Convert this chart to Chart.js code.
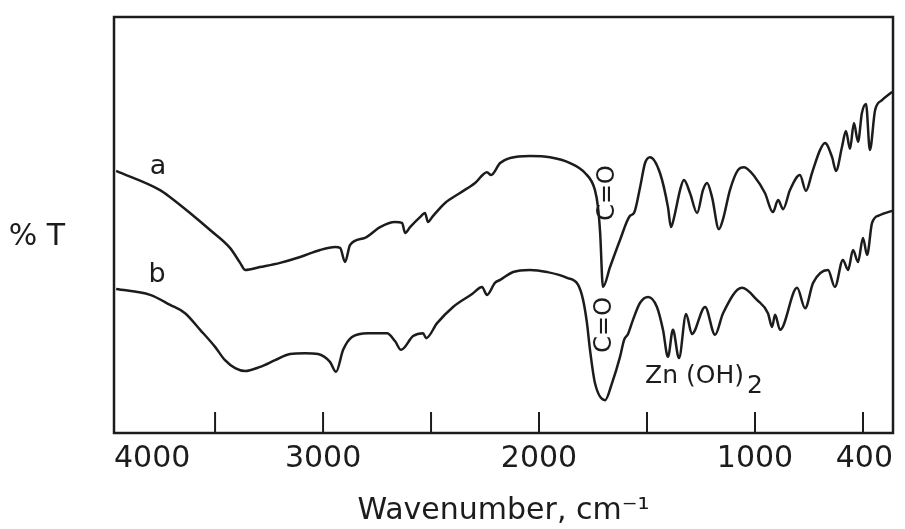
<!DOCTYPE html>
<html>
<head>
<meta charset="utf-8">
<script src="https://cdn.jsdelivr.net/npm/chart.js@4.4.0/dist/chart.umd.min.js"></script>
<style>
  html, body { margin: 0; padding: 0; background: #fff; }
</style>
</head>
<body>
<canvas id="irChart" width="905" height="529"></canvas>
<script>
// Spectre IR, courbe a (nombre d'onde en cm-1, %T)
const wavenumbersA = [3958, 3755, 3708, 3616, 3523, 3431, 3384, 3361, 3292, 3199, 3106, 3014, 2944, 2921, 2898,
    2875, 2806, 2736, 2667, 2634, 2620, 2597, 2551, 2528, 2514, 2495, 2435, 2366, 2296, 2241, 2222, 2180, 2134,
    2042, 1949, 1856, 1787, 1741, 1727, 1717, 1704, 1671, 1625, 1579, 1560, 1532, 1509, 1486, 1440, 1403, 1389,
    1370, 1347, 1329, 1301, 1268, 1241, 1222, 1199, 1167, 1148, 1116, 1079, 1051, 1000, 954, 917, 893, 870, 838,
    792, 764, 736, 699, 676, 643, 625, 597, 579, 560, 542, 523, 505, 486, 468, 444, 412, 365];
const transmittanceA = [63.0, 58.4, 56.7, 52.9, 48.8, 44.5, 40.9, 39.2, 39.9, 40.9, 42.3, 44.0, 44.7, 44.5, 41.1,
    45.2, 46.9, 49.5, 50.7, 50.5, 48.1, 49.5, 51.9, 52.9, 50.7, 51.9, 55.3, 57.7, 60.1, 62.7, 62.0, 64.9, 66.1,
    66.6, 66.3, 64.9, 62.5, 58.4, 54.3, 48.1, 35.1, 39.9, 46.4, 52.2, 52.9, 59.1, 64.9, 66.3, 62.5, 54.3, 49.5,
    52.9, 58.4, 60.8, 57.7, 52.9, 58.4, 60.1, 56.7, 49.0, 51.4, 58.4, 63.2, 63.9, 61.5, 57.7, 53.1, 56.0, 53.8, 58.4,
    62.0, 58.2, 62.5, 68.0, 69.7, 66.3, 63.0, 68.8, 72.6, 68.3, 74.5, 70.0, 76.9, 79.1, 68.0, 77.6, 80.0, 82.0];

// Courbe b
const wavenumbersB = [3958, 3801, 3708, 3639, 3569, 3500, 3454, 3407, 3361, 3292, 3222, 3153, 3083, 3023, 2968,
    2940, 2907, 2866, 2792, 2704, 2667, 2639, 2583, 2537, 2523, 2472, 2398, 2310, 2264, 2241, 2204, 2180, 2120,
    2042, 1963, 1870, 1819, 1796, 1778, 1764, 1741, 1694, 1662, 1625, 1606, 1588, 1565, 1532, 1495, 1454, 1426,
    1403, 1380, 1352, 1319, 1292, 1231, 1185, 1148, 1060, 991, 940, 921, 907, 884, 805, 768, 731, 662, 630,
    593, 569, 546, 523, 500, 481, 458, 421, 365];
const transmittanceB = [34.6, 33.2, 30.8, 28.8, 24.8, 20.7, 17.5, 15.6, 14.9, 15.9, 17.5, 19.0, 19.2, 19.0, 17.1,
    14.7, 20.0, 23.1, 24.0, 24.0, 22.1, 20.0, 23.3, 24.0, 22.8, 26.4, 30.3, 33.4, 35.1, 33.2, 36.1, 36.8, 38.7,
    39.2, 38.7, 37.3, 35.6, 32.0, 26.4, 20.0, 12.0, 7.9, 12.0, 18.3, 22.4, 23.8, 27.2, 31.3, 32.7, 30.3, 24.8,
    18.3, 24.8, 18.0, 28.6, 23.8, 30.3, 23.6, 28.8, 34.9, 32.0, 28.8, 25.5, 28.4, 24.8, 34.9, 30.0, 36.1, 39.2, 35.1,
    41.6, 39.2, 44.0, 41.1, 46.9, 42.8, 50.5, 52.4, 53.4];

// Axe des x : bornes du cadre, graduations internes et libellés
const xMin = 361;
const xMax = 3968;
const tickMarkValues = [3500, 3000, 2500, 2000, 1500, 1000, 500];
const labelValues = [361, 1000, 2000, 3000, 3968];
const labelTexts = ['400', '1000', '2000', '3000', '4000'];

// Annotations (position en nombre d'onde / %T), indice éventuel en fin de texte
const noteTexts = ['a', 'b', 'C=O', 'C=O', 'Zn (OH)'];
const noteSubs = ['', '', '', '', '2'];
const noteX = [3764, 3769, 1680, 1694, 1509];
const noteY = [63.9, 38.0, 57.7, 26.0, 13.5];
const noteRotated = [false, false, true, true, false];

const FONT = "'DejaVu Sans', sans-serif";
const INK = '#1c1c1c';

function toPoints(xs, ys) {
    return xs.map((x, i) => ({ x: x, y: ys[i] }));
}

// Cadre, graduations vers l'intérieur et annotations
const decorPlugin = {
    id: 'decor',
    afterDatasetsDraw(chart) {
        const ctx = chart.ctx;
        const area = chart.chartArea;
        const xs = chart.scales.x;
        const ys = chart.scales.y;
        ctx.save();
        ctx.strokeStyle = INK;
        ctx.lineWidth = 2.5;
        ctx.strokeRect(area.left, area.top, area.right - area.left, area.bottom - area.top);
        ctx.lineWidth = 2;
        tickMarkValues.forEach(v => {
            const px = xs.getPixelForValue(v);
            ctx.beginPath();
            ctx.moveTo(px, area.bottom);
            ctx.lineTo(px, area.bottom - 21);
            ctx.stroke();
        });
        ctx.fillStyle = INK;
        ctx.textAlign = 'center';
        ctx.textBaseline = 'middle';
        noteTexts.forEach((t, i) => {
            const px = xs.getPixelForValue(noteX[i]);
            const py = ys.getPixelForValue(noteY[i]);
            ctx.save();
            ctx.translate(px, py);
            if (noteRotated[i]) {
                ctx.rotate(-Math.PI / 2);
                ctx.font = '24px ' + FONT;
            } else if (noteSubs[i]) {
                ctx.textAlign = 'left';
                ctx.font = '25px ' + FONT;
            } else {
                ctx.font = '27px ' + FONT;
            }
            ctx.fillText(t, 0, 0);
            if (noteSubs[i]) {
                const w = ctx.measureText(t).width;
                ctx.fillText(noteSubs[i], w + 3, 10);
            }
            ctx.restore();
        });
        ctx.restore();
    }
};

const lineStyle = {
    borderColor: INK,
    borderWidth: 2.5,
    pointRadius: 0,
    fill: false,
    cubicInterpolationMode: 'monotone'
};

const irChart = new Chart(document.getElementById('irChart').getContext('2d'), {
    type: 'line',
    data: {
        datasets: [
            Object.assign({ label: 'a', data: toPoints(wavenumbersA, transmittanceA) }, lineStyle),
            Object.assign({ label: 'b', data: toPoints(wavenumbersB, transmittanceB) }, lineStyle)
        ]
    },
    plugins: [decorPlugin],
    options: {
        responsive: false,
        animation: false,
        layout: { padding: { left: 0, right: 12, top: 17, bottom: 0 } },
        plugins: {
            legend: { display: false },
            tooltip: { enabled: false }
        },
        scales: {
            x: {
                type: 'linear',
                reverse: true,
                min: xMin,
                max: xMax,
                afterFit: s => { s.height = 96; s.paddingLeft = 0; s.paddingRight = 0; },
                afterBuildTicks: s => { s.ticks = labelValues.map(v => ({ value: v })); },
                grid: { display: false, drawTicks: false },
                border: { display: false },
                ticks: {
                    autoSkip: false,
                    maxRotation: 0,
                    align: 'inner',
                    padding: 8,
                    color: INK,
                    font: { family: FONT, size: 30 },
                    callback: v => labelTexts[labelValues.indexOf(v)]
                },
                title: {
                    display: true,
                    text: 'Wavenumber, cm\u207B\u00B9',
                    color: INK,
                    font: { family: FONT, size: 30 },
                    padding: { top: 0, bottom: 0 }
                }
            },
            y: {
                type: 'linear',
                min: 0,
                max: 100,
                afterFit: s => { s.width = 114; s.paddingTop = 0; s.paddingBottom = 0; },
                afterBuildTicks: s => { s.ticks = [{ value: 47 }]; },
                grid: { display: false, drawTicks: false },
                border: { display: false },
                ticks: {
                    padding: 49,
                    color: INK,
                    font: { family: FONT, size: 30 },
                    callback: () => '% T'
                }
            }
        }
    }
});
</script>
</body>
</html>
